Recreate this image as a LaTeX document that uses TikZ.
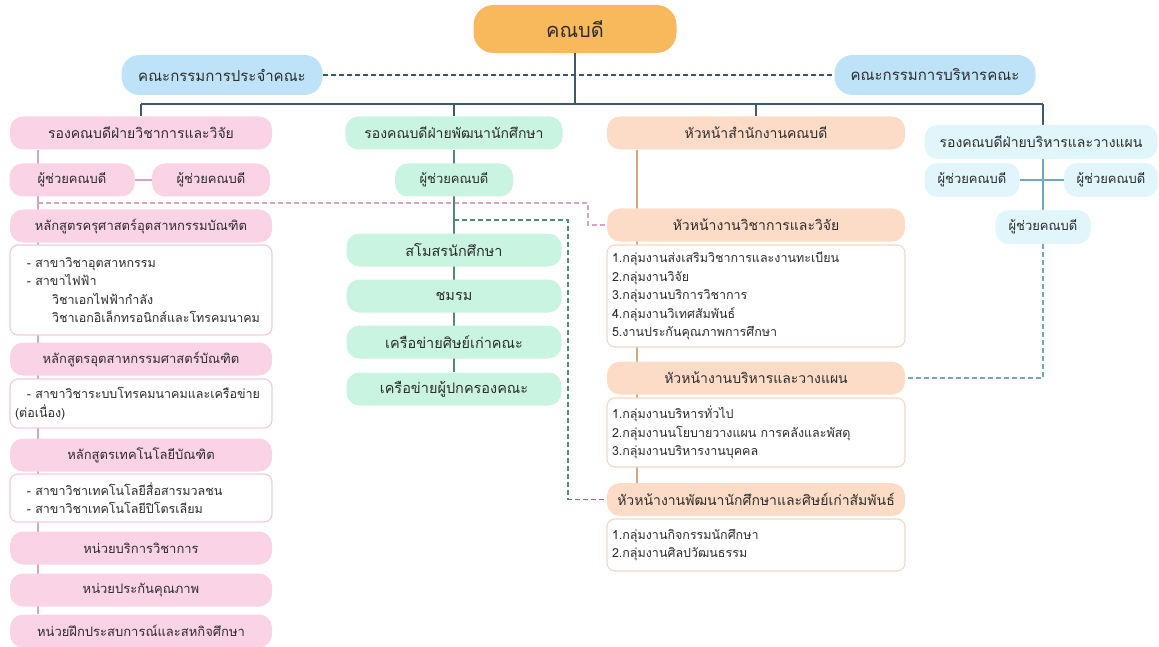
\documentclass[tikz,border=0pt]{standalone}
\usepackage{fontspec}
\setmainfont[Script=Thai]{Loma}
\usetikzlibrary{positioning,backgrounds}

\definecolor{deanorange}{HTML}{F8B95D}
\definecolor{boardblue}{HTML}{BEE3F8}
\definecolor{pinkfill}{HTML}{FAD3E7}
\definecolor{pinkedge}{HTML}{F3C9DF}
\definecolor{greenfill}{HTML}{C9F4E1}
\definecolor{peachfill}{HTML}{FDDCC7}
\definecolor{peachedge}{HTML}{F6D8C3}
\definecolor{cyanfill}{HTML}{E0F6FB}
\definecolor{mainline}{HTML}{3B5970}
\definecolor{pinkline}{HTML}{D9A3C9}
\definecolor{greenline}{HTML}{4E8C78}
\definecolor{peachline}{HTML}{D8A684}
\definecolor{cyanline}{HTML}{6EA8C2}
\definecolor{inktext}{HTML}{2D2D2D}

\begin{document}
\begin{tikzpicture}
    [x=1pt, y=-1pt,
     every node/.style={text=inktext, font=\fontsize{13}{15}\selectfont},
     unit/.style={rounded corners=13pt, minimum height=33pt, inner sep=2pt},
     bigtext/.style={font=\fontsize{14}{16}\selectfont},
     dean/.style={fill=deanorange, rounded corners=20pt, minimum width=203pt, minimum height=48pt, font=\fontsize{20}{23}\selectfont},
     board/.style={fill=boardblue, rounded corners=18pt, minimum width=201pt, minimum height=40pt, font=\fontsize{15}{17}\selectfont},
     pinkbox/.style={unit, fill=pinkfill, minimum width=262pt},
     greenbox/.style={unit, fill=greenfill, minimum width=215pt, font=\fontsize{14.5}{16}\selectfont},
     peachbox/.style={unit, fill=peachfill, minimum width=298pt, bigtext},
     cyanbox/.style={unit, fill=cyanfill, minimum height=34pt},
     detail/.style={draw, line width=1.2pt, fill=white, rounded corners=8pt, align=left, inner xsep=5pt, font=\fontsize{12.5}{18.5}\selectfont},
     pinkdetail/.style={detail, draw=pinkedge, text width=252pt},
     peachdetail/.style={detail, draw=peachedge, text width=288pt},
     trunk/.style={draw=mainline, line width=1.2pt},
     pinkpath/.style={draw=pinkline, line width=1.2pt},
     greenpath/.style={draw=greenline, line width=1.2pt},
     peachpath/.style={draw=peachline, line width=1.2pt},
     cyanpath/.style={draw=cyanline, line width=1.2pt},
     dashline/.style={dash pattern=on 5pt off 3pt}]
    \useasboundingbox (0,0) rectangle (1159,647);

    % top
    \node[dean] (dean) at (575,29) {คณบดี};
    \node[board] (boardA) at (222,75) {คณะกรรมการประจำคณะ};
    \node[board] (boardB) at (935,75) {คณะกรรมการบริหารคณะ};

    % vice deans
    \node[pinkbox, bigtext] (viceacad) at (141,133) {รองคณบดีฝ่ายวิชาการและวิจัย};
    \node[greenbox, bigtext, minimum width=217pt] (vicestu) at (454,133) {รองคณบดีฝ่ายพัฒนานักศึกษา};
    \node[peachbox] (office) at (756,133) {หัวหน้าสำนักงานคณบดี};
    \node[cyanbox, bigtext, minimum width=233pt] (viceplan) at (1041,142) {รองคณบดีฝ่ายบริหารและวางแผน};

    % assistants
    \node[pinkbox, minimum width=125pt] (asstA) at (72,180) {ผู้ช่วยคณบดี};
    \node[pinkbox, minimum width=118pt] (asstB) at (211,180) {ผู้ช่วยคณบดี};
    \node[greenbox, minimum width=118pt, font=\fontsize{13}{15}\selectfont] (asstG) at (454,180) {ผู้ช่วยคณบดี};
    \node[cyanbox, minimum width=95pt] (asstCL) at (972,180) {ผู้ช่วยคณบดี};
    \node[cyanbox, minimum width=94pt] (asstCR) at (1111,180) {ผู้ช่วยคณบดี};
    \node[cyanbox, minimum width=95pt] (asstCB) at (1043,227) {ผู้ช่วยคณบดี};

    % academic column
    \node[pinkbox] (courseA) at (141,226) {หลักสูตรครุศาสตร์อุตสาหกรรมบัณฑิต};
    \node[pinkdetail, minimum height=90pt] (detailA) at (141,290)
        {\hspace*{12pt}- สาขาวิชาอุตสาหกรรม\\
         \hspace*{12pt}- สาขาไฟฟ้า\\
         \hspace*{37pt}วิชาเอกไฟฟ้ากำลัง\\
         \hspace*{37pt}วิชาเอกอิเล็กทรอนิกส์และโทรคมนาคม};
    \node[pinkbox] (courseB) at (141,359) {หลักสูตรอุตสาหกรรมศาสตร์บัณฑิต};
    \node[pinkdetail, minimum height=49pt] (detailB) at (141,403.5)
        {\hspace*{12pt}- สาขาวิชาระบบโทรคมนาคมและเครือข่าย\\
         (ต่อเนื่อง)};
    \node[pinkbox] (courseC) at (141,455) {หลักสูตรเทคโนโลยีบัณฑิต};
    \node[pinkdetail, minimum height=48pt] (detailC) at (141,498)
        {\hspace*{12pt}- สาขาวิชาเทคโนโลยีสื่อสารมวลชน\\
         \hspace*{12pt}- สาขาวิชาเทคโนโลยีปิโตรเลียม};
    \node[pinkbox] (unitA) at (141,548) {หน่วยบริการวิชาการ};
    \node[pinkbox] (unitB) at (141,590) {หน่วยประกันคุณภาพ};
    \node[pinkbox] (unitC) at (141,631) {หน่วยฝึกประสบการณ์และสหกิจศึกษา};

    % student column
    \node[greenbox] (clubA) at (454,250) {สโมสรนักศึกษา};
    \node[greenbox] (clubB) at (454,296) {ชมรม};
    \node[greenbox] (clubC) at (454,342) {เครือข่ายศิษย์เก่าคณะ};
    \node[greenbox] (clubD) at (454,389) {เครือข่ายผู้ปกครองคณะ};

    % office column
    \node[peachbox] (acadhead) at (756,225) {หัวหน้างานวิชาการและวิจัย};
    \node[peachdetail, minimum height=102pt] (acaddetail) at (756,296)
        {1.กลุ่มงานส่งเสริมวิชาการและงานทะเบียน\\
         2.กลุ่มงานวิจัย\\
         3.กลุ่มงานบริการวิชาการ\\
         4.กลุ่มงานวิเทศสัมพันธ์\\
         5.งานประกันคุณภาพการศึกษา};
    \node[peachbox] (planhead) at (756,378) {หัวหน้างานบริหารและวางแผน};
    \node[peachdetail, minimum height=69pt] (plandetail) at (756,432.5)
        {1.กลุ่มงานบริหารทั่วไป\\
         2.กลุ่มงานนโยบายวางแผน การคลังและพัสดุ\\
         3.กลุ่มงานบริหารงานบุคคล};
    \node[peachbox] (stuhead) at (756,499.5) {หัวหน้างานพัฒนานักศึกษาและศิษย์เก่าสัมพันธ์};
    \node[peachdetail, minimum height=52pt] (studetail) at (756,545)
        {1.กลุ่มงานกิจกรรมนักศึกษา\\
         2.กลุ่มงานศิลปวัฒนธรรม};

    \coordinate (busL) at (141,104);
    \coordinate (busR) at (1043,104);
    \coordinate (pspine) at (38,150);
    \coordinate (ospine) at (637,150);
    \coordinate (pdashA) at (38,203);
    \coordinate (pdashB) at (588,203);
    \coordinate (gdashA) at (454,220);
    \coordinate (gdashB) at (568,220);

    \begin{scope}[on background layer]
    \draw[trunk, dashline] (boardA) -- (boardB);
    \draw[trunk] (dean) -- (dean |- busL);
    \draw[trunk] (busL) -- (busR);
    \draw[trunk] (busL) -- (viceacad);
    \draw[trunk] (vicestu) -- (vicestu |- busL);
    \draw[trunk] (office) -- (office |- busL);
    \draw[trunk] (busR) -- (busR |- viceplan.north);

    \draw[pinkpath] (pspine) -- (pspine |- unitC.north);
    \draw[pinkpath] (asstA) -- (asstB);
    \draw[pinkpath, dashline] (pdashA) -- (pdashB) |- (acadhead.west);

    \draw[greenpath] (vicestu) -- (clubD);
    \draw[greenpath, dashline] (gdashA) -- (gdashB) |- (stuhead.west);

    \draw[peachpath] (ospine) -- (ospine |- stuhead.north);

    \draw[cyanpath] (viceplan.south -| busR) -- (asstCB);
    \draw[cyanpath] (asstCL) -- (asstCR);
    \draw[cyanpath, dashline] (asstCB) |- (planhead.east);
    \end{scope}
\end{tikzpicture}
\end{document}
